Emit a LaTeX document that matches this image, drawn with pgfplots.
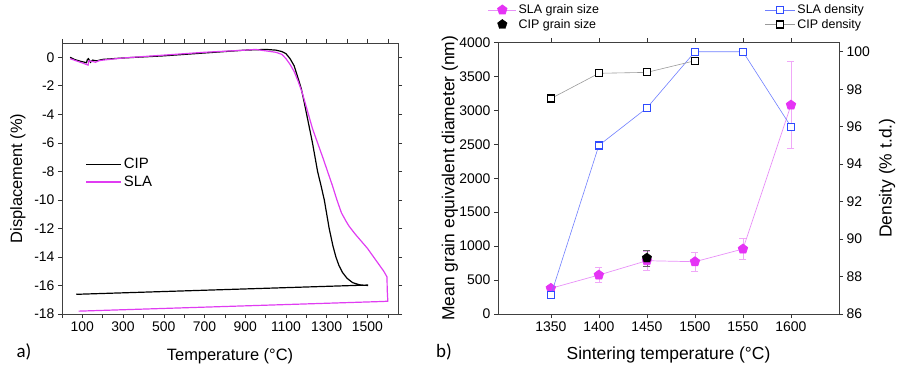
\documentclass[border=0pt]{standalone}
\usepackage{fontspec}
\setmainfont{Liberation Sans}
\newfontfamily\calibri{Carlito}
\usepackage{pgfplots}
\pgfplotsset{compat=1.18}
\definecolor{slaM}{HTML}{E03CF2}
\definecolor{slaL}{HTML}{E890F8}
\definecolor{slaF}{HTML}{E533F5}
\definecolor{slaE}{HTML}{F0A8F8}
\definecolor{blueM}{HTML}{2F4BFF}
\definecolor{blueL}{HTML}{6F7FFF}
\definecolor{grayL}{HTML}{9A9A9A}
\begin{document}
\begin{tikzpicture}
\useasboundingbox (0,0) rectangle (897bp,374bp);
\pgfplotsset{
  every axis/.append style={
    scale only axis,
    tick align=outside,
    major tick length=4bp, minor tick length=4bp,
    tick style={black!80, line width=0.6bp},
    axis line style={black!75, line width=0.8bp},
    tick label style={font=\fontsize{14}{14}\selectfont},
    /pgf/number format/assume math mode=true,
    /pgf/number format/1000 sep={},
  }
}
% ---------------- Panel a ----------------
\begin{axis}[
  at={(62bp,60bp)}, anchor=south west, width=336bp, height=271bp,
  xmin=0, xmax=1650, ymin=-18, ymax=1,
  xtick={100,300,...,1500}, minor xtick={0,200,...,1600},
  ytick={-18,-16,...,0},
  xlabel={Temperature (°C)}, ylabel={Displacement (\%)},
  xlabel style={font=\fontsize{16.5}{16.5}\selectfont, at={(axis description cs:0.5,-0.155)}, anchor=center},
  ylabel style={font=\fontsize{16.5}{16.5}\selectfont, at={(axis description cs:-0.131,0.5)}, anchor=center},
  legend style={at={(0.07,0.52)}, anchor=west, draw=none, fill=none, inner sep=0pt,
    font=\fontsize{15}{18}\selectfont, row sep=2bp, cells={anchor=west}},
  legend image code/.code={\draw[#1] (0bp,0bp) -- (35bp,0bp);},
]
\addplot[black, line width=1.2bp] coordinates {
(40,0.0) (60,-0.15) (90,-0.28) (120,-0.38) (125,-0.15) (130,-0.1) (140,-0.35) (150,-0.2) (170,-0.25) (200,-0.15) (300,-0.05) (500,0.1) (700,0.3) (900,0.5) (1000,0.55) (1050,0.5) (1080,0.4) (1100,0.25) (1120,-0.1) (1140,-0.6) (1160,-1.5) (1175,-2.2) (1190,-3.2) (1210,-4.6) (1230,-6.0) (1255,-8.0) (1272,-9.0) (1288,-10.0) (1312,-12.0) (1330,-13.2) (1345,-14.0) (1360,-14.6) (1378,-15.1) (1400,-15.5) (1427,-15.8) (1460,-15.95) (1500,-16.0) (1500,-15.97) (70,-16.62)
};
\addlegendentry{CIP}
\addplot[slaM, line width=1.2bp] coordinates {
(40,-0.1) (80,-0.3) (110,-0.45) (128,-0.55) (132,-0.25) (150,-0.3) (165,-0.35) (180,-0.25) (200,-0.2) (300,-0.05) (500,0.15) (700,0.35) (900,0.5) (950,0.55) (1000,0.45) (1050,0.35) (1080,0.2) (1100,-0.1) (1120,-0.5) (1140,-1.0) (1160,-1.7) (1180,-2.5) (1190,-3.0) (1210,-4.0) (1230,-5.0) (1255,-6.0) (1280,-7.0) (1304,-8.0) (1328,-9.0) (1350,-10.0) (1372,-10.9) (1395,-11.5) (1410,-11.85) (1440,-12.4) (1470,-12.9) (1500,-13.4) (1530,-14.0) (1560,-14.6) (1580,-15.0) (1596,-15.4) (1597,-16.3) (1600,-17.1) (1580,-17.12) (82,-17.8)
};
\addlegendentry{SLA}
\end{axis}
% ---------------- Panel b: grain size ----------------
\begin{axis}[
  at={(498bp,60bp)}, anchor=south west, width=341bp, height=271.6bp,
  xmin=1295, xmax=1650, ymin=0, ymax=4000,
  axis y line*=left,
  xtick={1350,1400,...,1600}, ytick={0,500,...,4000},
  xlabel={Sintering temperature (°C)}, ylabel={Mean grain equivalent diameter (nm)},
  xlabel style={font=\fontsize{17.5}{17.5}\selectfont, at={(axis description cs:0.5,-0.151)}, anchor=center},
  ylabel style={font=\fontsize{17.5}{17.5}\selectfont, at={(axis description cs:-0.141,0.5)}, anchor=center},
  legend style={at={(-0.03,1.147)}, anchor=north west, draw=none, fill=none, inner sep=0pt,
    font=\fontsize{12.5}{15}\selectfont, row sep=0bp, cells={anchor=west}},
  legend image code/.code={\draw[mark repeat=2,mark phase=2,#1] plot coordinates {(0bp,0bp) (14bp,0bp) (28bp,0bp)};},
]
\addplot[color=slaL, line width=0.7bp, mark=pentagon*, mark size=5bp,
  mark options={fill=slaF, draw=slaF, solid},
  error bars/.cd, y dir=both, y explicit,
  error bar style={color=slaE, line width=0.7bp},
  error mark options={rotate=90, mark size=3.5bp, color=slaE}]
coordinates {
(1350,378) +- (0,50)
(1400,574) +- (0,110)
(1450,785) +- (0,140)
(1500,770) +- (0,140)
(1550,957) +- (0,157)
(1600,3077) +- (0,640)
};
\addlegendentry{SLA grain size}
\addplot[only marks, mark=pentagon*, mark size=5bp, mark options={fill=black, draw=black},
  error bars/.cd, y dir=both, y explicit,
  error bar style={color=black!60, line width=0.7bp},
  error mark options={rotate=90, mark size=3.5bp, color=black!60}]
coordinates {(1450,825) +- (0,120)};
\addlegendentry{CIP grain size}
\end{axis}
% ---------------- Panel b: density ----------------
\begin{axis}[
  at={(498bp,60bp)}, anchor=south west, width=341bp, height=271.6bp,
  xmin=1295, xmax=1650, ymin=86, ymax=100.5,
  axis y line*=right, axis x line=none,
  ytick={86,88,...,100},
  ylabel={Density (\% t.d.)},
  ylabel style={font=\fontsize{17.5}{17.5}\selectfont, at={(axis description cs:1.141,0.5)}, anchor=center},
  legend style={at={(0.782,1.147)}, anchor=north west, draw=none, fill=none, inner sep=0pt,
    font=\fontsize{12.5}{15}\selectfont, row sep=0bp, cells={anchor=west}},
  legend image code/.code={\draw[mark repeat=2,mark phase=2,#1] plot coordinates {(0bp,0bp) (15bp,0bp) (30bp,0bp)};},
]
\addplot[color=blueL, line width=0.6bp, mark=square*, mark size=3.5bp,
  mark options={draw=blueM, fill=white, line width=1.2bp, solid}]
coordinates {(1350,87.0) (1400,95.0) (1450,97.0) (1500,100.0) (1550,100.0) (1600,96.0)};
\addlegendentry{SLA density}
\addplot[color=grayL, line width=0.6bp, mark=square*, mark size=3.5bp,
  mark options={draw=black, fill=white, line width=1.2bp, solid}]
coordinates {(1350,97.5) (1400,98.85) (1450,98.9) (1500,99.52)};
\addlegendentry{CIP density}
\end{axis}
\node[font=\calibri\fontsize{19}{19}\selectfont] at (24bp,22bp) {a)};
\node[font=\calibri\fontsize{19}{19}\selectfont] at (444bp,22.5bp) {b)};
\end{tikzpicture}
\end{document}
